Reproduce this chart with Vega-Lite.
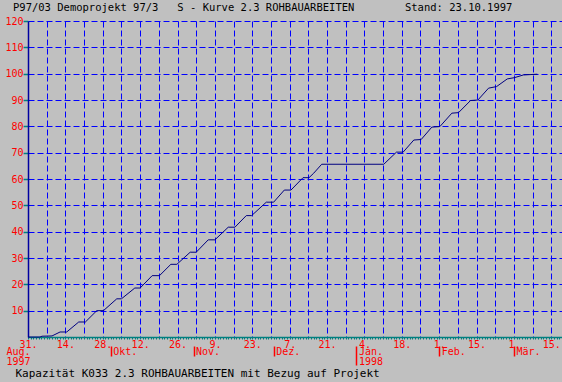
{
  "$schema": "https://vega.github.io/schema/vega-lite/v6.json",
  "width": 534,
  "height": 316,
  "autosize": "none",
  "padding": {"left": 28, "top": 21, "right": 0, "bottom": 45},
  "background": "#C0C0C0",
  "view": {"stroke": null},
  "config": {
    "axis": {"grid": false, "labelFont": "DejaVu Sans Mono", "labelFontSize": 10, "labelColor": "#FF0000", "titleFont": "DejaVu Sans Mono"}
  },
  "title": {
    "text": "P97/03 Demoprojekt 97/3\u00a0\u00a0\u00a0S - Kurve 2.3 ROHBAUARBEITEN\u00a0\u00a0\u00a0\u00a0\u00a0\u00a0\u00a0\u00a0Stand: 23.10.1997",
    "anchor": "start",
    "frame": "group",
    "dx": -15,
    "dy": 9,
    "offset": 4,
    "baseline": "alphabetic",
    "font": "DejaVu Sans Mono",
    "fontSize": 10.5,
    "fontWeight": "normal",
    "color": "#000000"
  },
  "data": {
    "values": [
      {"d": "1997-08-31T00:00", "v": 0},
      {"d": "1997-09-04T12:00", "v": 0},
      {"d": "1997-09-05T06:00", "v": 0.3},
      {"d": "1997-09-09T00:00", "v": 0.4},
      {"d": "1997-09-12T00:00", "v": 1.9},
      {"d": "1997-09-14T12:00", "v": 1.9},
      {"d": "1997-09-19T00:00", "v": 5.7},
      {"d": "1997-09-21T12:00", "v": 5.7},
      {"d": "1997-09-25T18:00", "v": 10.0},
      {"d": "1997-09-28T06:00", "v": 10.0},
      {"d": "1997-10-03T06:00", "v": 14.5},
      {"d": "1997-10-05T00:00", "v": 14.5},
      {"d": "1997-10-10T00:00", "v": 18.6},
      {"d": "1997-10-12T00:00", "v": 18.6},
      {"d": "1997-10-16T12:00", "v": 23.3},
      {"d": "1997-10-19T06:00", "v": 23.3},
      {"d": "1997-10-23T12:00", "v": 27.6},
      {"d": "1997-10-25T18:00", "v": 27.6},
      {"d": "1997-10-30T18:00", "v": 32.2},
      {"d": "1997-11-02T00:00", "v": 32.2},
      {"d": "1997-11-06T12:00", "v": 36.9},
      {"d": "1997-11-09T00:00", "v": 36.9},
      {"d": "1997-11-14T00:00", "v": 41.7},
      {"d": "1997-11-16T12:00", "v": 41.7},
      {"d": "1997-11-20T18:00", "v": 46.1},
      {"d": "1997-11-22T18:00", "v": 46.1},
      {"d": "1997-11-28T06:00", "v": 51.2},
      {"d": "1997-12-01T00:00", "v": 51.2},
      {"d": "1997-12-05T00:00", "v": 55.8},
      {"d": "1997-12-07T12:00", "v": 55.8},
      {"d": "1997-12-12T00:00", "v": 60.5},
      {"d": "1997-12-14T06:00", "v": 60.5},
      {"d": "1997-12-16T00:00", "v": 62.2},
      {"d": "1997-12-19T00:00", "v": 65.6},
      {"d": "1998-01-11T06:00", "v": 65.6},
      {"d": "1998-01-16T00:00", "v": 70.2},
      {"d": "1998-01-18T12:00", "v": 70.2},
      {"d": "1998-01-22T12:00", "v": 74.8},
      {"d": "1998-01-25T06:00", "v": 75.0},
      {"d": "1998-01-29T06:00", "v": 79.7},
      {"d": "1998-02-01T06:00", "v": 79.9},
      {"d": "1998-02-05T18:00", "v": 85.0},
      {"d": "1998-02-08T06:00", "v": 85.2},
      {"d": "1998-02-12T18:00", "v": 89.8},
      {"d": "1998-02-15T12:00", "v": 90.0},
      {"d": "1998-02-19T12:00", "v": 94.5},
      {"d": "1998-02-22T12:00", "v": 95.1},
      {"d": "1998-02-26T12:00", "v": 98.0},
      {"d": "1998-03-01T06:00", "v": 98.5},
      {"d": "1998-03-04T12:00", "v": 99.5},
      {"d": "1998-03-09T18:00", "v": 99.8}
    ]
  },
  "layer": [
    {
      "mark": {"type": "line", "color": "#000080", "strokeWidth": 1},
      "encoding": {
        "x": {
          "field": "d", "type": "temporal",
          "scale": {"domain": [{"year": 1997, "month": 8, "date": 31}, {"year": 1998, "month": 3, "date": 19}]},
          "axis": {
            "orient": "bottom",
            "values": [
              {"year": 1997, "month": 8, "date": 31},
              {"year": 1997, "month": 9, "date": 7},
              {"year": 1997, "month": 9, "date": 14},
              {"year": 1997, "month": 9, "date": 21},
              {"year": 1997, "month": 9, "date": 28},
              {"year": 1997, "month": 10, "date": 5},
              {"year": 1997, "month": 10, "date": 12},
              {"year": 1997, "month": 10, "date": 19},
              {"year": 1997, "month": 10, "date": 26},
              {"year": 1997, "month": 11, "date": 2},
              {"year": 1997, "month": 11, "date": 9},
              {"year": 1997, "month": 11, "date": 16},
              {"year": 1997, "month": 11, "date": 23},
              {"year": 1997, "month": 11, "date": 30},
              {"year": 1997, "month": 12, "date": 7},
              {"year": 1997, "month": 12, "date": 14},
              {"year": 1997, "month": 12, "date": 21},
              {"year": 1997, "month": 12, "date": 28},
              {"year": 1998, "month": 1, "date": 4},
              {"year": 1998, "month": 1, "date": 11},
              {"year": 1998, "month": 1, "date": 18},
              {"year": 1998, "month": 1, "date": 25},
              {"year": 1998, "month": 2, "date": 1},
              {"year": 1998, "month": 2, "date": 8},
              {"year": 1998, "month": 2, "date": 15},
              {"year": 1998, "month": 2, "date": 22},
              {"year": 1998, "month": 3, "date": 1},
              {"year": 1998, "month": 3, "date": 8},
              {"year": 1998, "month": 3, "date": 15}
            ],
            "grid": true, "gridColor": "#0000FF", "gridDash": [6, 3], "gridWidth": 1,
            "domainColor": "#008080", "domainWidth": 1.5,
            "ticks": false, "tickSize": 0,
            "labelPadding": 2,
            "labelExpr": "round((datum.value - datetime(1997,7,31)) / 604800000) % 2 == 0 ? date(datum.value) + '.' : ''",
            "labelOverlap": false, "labelFlush": false, "labelBound": false,
            "title": null
          }
        },
        "y": {
          "field": "v", "type": "quantitative",
          "scale": {"domain": [0, 120], "nice": false},
          "axis": {
            "values": [10, 20, 30, 40, 50, 60, 70, 80, 90, 100, 110, 120],
            "grid": true, "gridColor": "#0000FF", "gridDash": [6, 3], "gridWidth": 1,
            "domainColor": "#0000A0", "domainWidth": 1.5,
            "tickColor": "#008080", "tickSize": 5, "tickWidth": 1.5,
            "labelPadding": 0, "labelBaseline": "middle",
            "labelFlush": false, "labelOverlap": false,
            "title": null
          }
        }
      }
    },
    {
      "mark": {"type": "line", "opacity": 0},
      "encoding": {
        "x": {
          "field": "d", "type": "temporal",
          "scale": {"domain": [{"year": 1997, "month": 8, "date": 31}, {"year": 1998, "month": 3, "date": 19}]},
          "axis": {
            "orient": "bottom",
            "tickCount": {"interval": "day", "step": 1},
            "labels": false, "grid": false, "domain": false,
            "tickColor": "#008080", "tickSize": 2, "tickWidth": 1,
            "title": null
          }
        },
        "y": {"field": "v", "type": "quantitative", "scale": {"domain": [0, 120], "nice": false}, "axis": null}
      }
    },
    {
      "mark": {"type": "line", "opacity": 0},
      "encoding": {
        "x": {
          "field": "d", "type": "temporal",
          "scale": {"domain": [{"year": 1997, "month": 8, "date": 31}, {"year": 1998, "month": 3, "date": 19}]},
          "axis": {
            "orient": "bottom",
            "offset": 9,
            "values": [
              {"year": 1997, "month": 8, "date": 31},
              {"year": 1997, "month": 10, "date": 1},
              {"year": 1997, "month": 11, "date": 1},
              {"year": 1997, "month": 12, "date": 1},
              {"year": 1998, "month": 1, "date": 1},
              {"year": 1998, "month": 2, "date": 1},
              {"year": 1998, "month": 3, "date": 1}
            ],
            "domain": false, "grid": false,
            "tickColor": "#FF0000", "tickWidth": 1.5,
            "tickSize": {"condition": {"test": "month(datum.value) == 0", "value": 19}, "value": 10},
            "tickOpacity": {"condition": {"test": "month(datum.value) == 7", "value": 0}, "value": 1},
            "labelPadding": {"condition": {"test": "month(datum.value) == 0", "value": -19}, "value": -10},
            "labelBaseline": "top",
            "labelAlign": {"condition": {"test": "month(datum.value) == 7", "value": "right"}, "value": "left"},
            "labelOffset": 2,
            "labelLineHeight": 10,
            "labelExpr": "month(datum.value) == 7 ? ['Aug.', '1997'] : month(datum.value) == 0 ? ['Jan.', '1998'] : month(datum.value) == 9 ? 'Okt.' : month(datum.value) == 10 ? 'Nov.' : month(datum.value) == 11 ? 'Dez.' : month(datum.value) == 1 ? 'Feb.' : 'Mär.'",
            "labelOverlap": false, "labelFlush": false, "labelBound": false,
            "title": "Kapazität K033 2.3 ROHBAUARBEITEN mit Bezug auf Projekt",
            "titleX": -13, "titleY": 30,
            "titleAnchor": "start", "titleAlign": "left", "titleBaseline": "alphabetic",
            "titleColor": "#000000", "titleFontSize": 11, "titleFontWeight": "normal"
          }
        },
        "y": {"field": "v", "type": "quantitative", "scale": {"domain": [0, 120], "nice": false}, "axis": null}
      }
    }
  ],
  "resolve": {"axis": {"x": "independent", "y": "independent"}}
}
